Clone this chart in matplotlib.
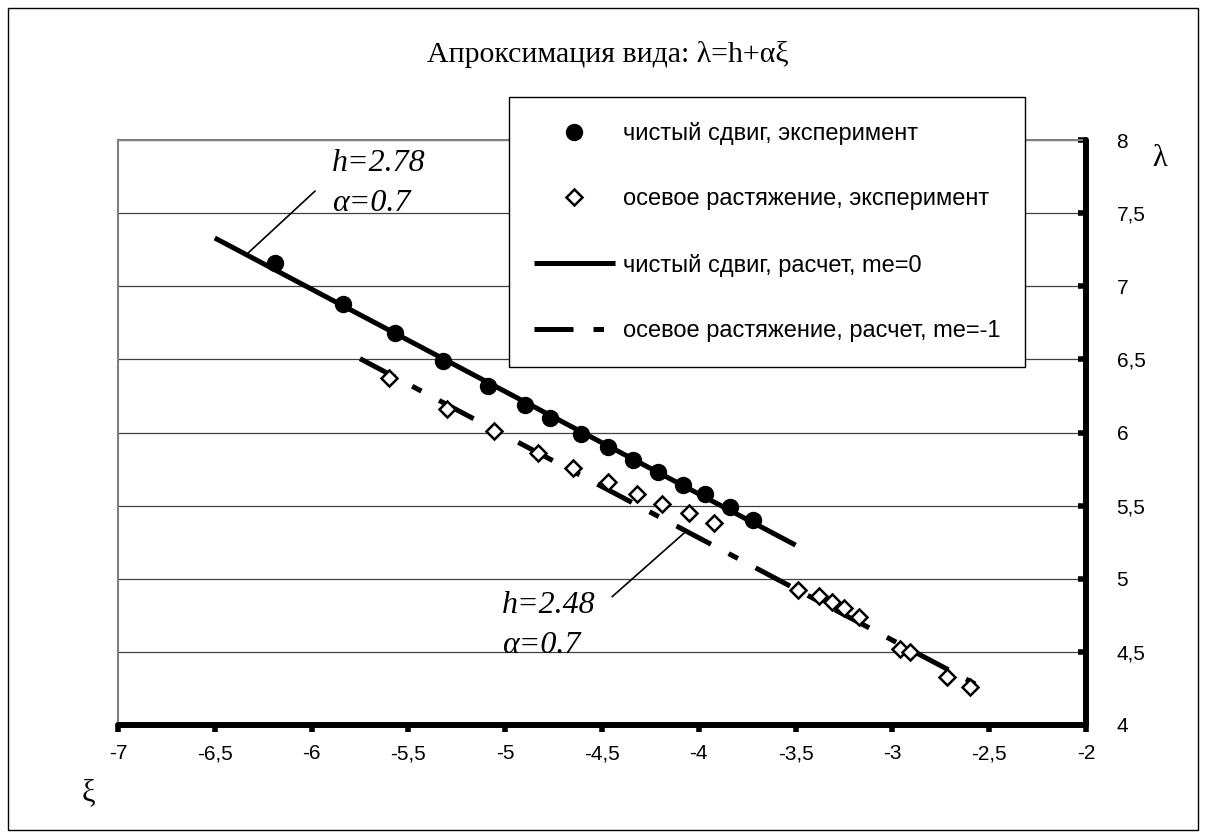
import matplotlib
matplotlib.use('Agg')
import matplotlib.pyplot as plt
from matplotlib.lines import Line2D
from matplotlib.patches import Rectangle

# ---- data ----
shear_xi = [-6.19, -5.84, -5.57, -5.32, -5.09, -4.90, -4.77, -4.61, -4.47, -4.34,
            -4.21, -4.08, -3.97, -3.84, -3.72]
shear_lam = [7.16, 6.88, 6.68, 6.49, 6.32, 6.19, 6.10, 5.99, 5.90, 5.81,
             5.73, 5.64, 5.58, 5.49, 5.40]
tension_xi = [-5.60, -5.30, -5.06, -4.83, -4.65, -4.47, -4.32, -4.19, -4.05, -3.92,
              -3.49, -3.38, -3.31, -3.25, -3.17, -2.96, -2.91, -2.72, -2.60]
tension_lam = [6.37, 6.16, 6.01, 5.86, 5.76, 5.66, 5.58, 5.51, 5.45, 5.38,
               4.92, 4.88, 4.84, 4.80, 4.74, 4.52, 4.50, 4.33, 4.26]
shear_fit_xi = [-6.5, -3.5]
shear_fit_lam = [7.33, 5.23]
tension_fit_xi = [-5.75, -2.5]
tension_fit_lam = [6.505, 4.23]

xticks = [-7, -6.5, -6, -5.5, -5, -4.5, -4, -3.5, -3, -2.5, -2]
xtick_labels = ['-7', '-6,5', '-6', '-5,5', '-5', '-4,5', '-4', '-3,5', '-3', '-2,5', '-2']
yticks = [4, 4.5, 5, 5.5, 6, 6.5, 7, 7.5, 8]
ytick_labels = ['4', '4,5', '5', '5,5', '6', '6,5', '7', '7,5', '8']

legend_labels = ['чистый сдвиг, эксперимент',
                 'осевое растяжение, эксперимент',
                 'чистый сдвиг, расчет, me=0',
                 'осевое растяжение, расчет, me=-1']

SANS = 'Liberation Sans'
SERIF = 'Liberation Serif'

W, H = 1206, 835
fig = plt.figure(figsize=(W / 100, H / 100), dpi=100)
fig.patch.set_facecolor('white')

# outer border
fig.patches.append(Rectangle((8 / W, 1 - 830 / H), (1198 - 8) / W, (830 - 8) / H,
                             transform=fig.transFigure, fill=False,
                             edgecolor='black', lw=1.0))

L, R, T, B = 118, 1086, 140, 725
ax = fig.add_axes([L / W, 1 - B / H, (R - L) / W, (B - T) / H])
ax.set_xlim(-7, -2)
ax.set_ylim(4, 8)

# grid
ax.set_yticks(yticks)
ax.set_yticklabels(ytick_labels)
ax.set_xticks(xticks)
ax.set_xticklabels(xtick_labels)
ax.yaxis.grid(True, color='#404040', lw=0.9)
ax.set_axisbelow(True)

for s in ['left', 'top']:
    ax.spines[s].set_color('#808080')
    ax.spines[s].set_linewidth(1.5)
for s in ['bottom', 'right']:
    ax.spines[s].set_color('black')
    ax.spines[s].set_linewidth(4.3)
    ax.spines[s].set_capstyle('round')
    ax.spines[s].set_zorder(5)

ax.yaxis.tick_right()
ax.tick_params(axis='x', direction='out', length=5, width=4, pad=9,
               labelsize=15, colors='black')
ax.tick_params(axis='y', direction='in', length=6, width=4, pad=22,
               labelsize=15, colors='black', left=False, right=True,
               labelleft=False, labelright=True)
for lab in ax.get_xticklabels() + ax.get_yticklabels():
    lab.set_family(SANS)
for lab in ax.get_yticklabels():
    lab.set_horizontalalignment('left')

# fitted lines
dash = (0, (7.8, 4.0, 2.1, 4.0))
ax.plot(shear_fit_xi, shear_fit_lam, color='black', lw=3.6,
        solid_capstyle='butt', zorder=3)
ax.plot(tension_fit_xi, tension_fit_lam, color='black', lw=3.6,
        linestyle=dash, dash_capstyle='butt', zorder=3)

# experiment points
ax.plot(shear_xi, shear_lam, ls='none', marker='o', ms=11.5,
        color='black', zorder=4)
ax.plot(tension_xi, tension_lam, ls='none', marker='D', ms=8.3,
        mfc='white', mec='black', mew=1.8, zorder=4)

# annotations
ax.annotate('', xy=(-6.334, 7.22), xytext=(-5.982, 7.651),
            arrowprops=dict(arrowstyle='-', lw=1.2, color='black',
                            shrinkA=0, shrinkB=0))
ax.annotate('', xy=(-4.061, 5.33), xytext=(-4.448, 4.877),
            arrowprops=dict(arrowstyle='-', lw=1.2, color='black',
                            shrinkA=0, shrinkB=0))
ann = dict(family=SERIF, style='italic', fontsize=23, va='center', ha='left')
ax.text(-5.895, 7.836, 'h=2.78', **ann)
ax.text(-5.895, 7.568, 'α=0.7', **ann)
ax.text(-5.017, 4.815, 'h=2.48', **ann)
ax.text(-5.017, 4.541, 'α=0.7', **ann)

# title and axis names
fig.text(608 / W, 1 - 55 / H, 'Апроксимация вида: λ=h+αξ', family=SERIF,
         fontsize=21.5, ha='center', va='center')
fig.text(1160 / W, 1 - 158 / H, 'λ', family=SERIF, fontsize=22,
         ha='center', va='center')
fig.text(88 / W, 1 - 793 / H, 'ξ', family=SERIF, fontsize=22,
         ha='center', va='center')

# legend
handles = [
    Line2D([], [], ls='none', marker='o', ms=11.5, color='black'),
    Line2D([], [], ls='none', marker='D', ms=8.3, mfc='white', mec='black', mew=1.8),
    Line2D([], [], color='black', lw=3.6, solid_capstyle='butt'),
    Line2D([], [], color='black', lw=3.6, linestyle=dash, dash_capstyle='butt'),
]
leg = fig.legend(handles, legend_labels, loc='upper left',
                 bbox_to_anchor=(509 / W, 1 - 97 / H), bbox_transform=fig.transFigure,
                 frameon=True, fancybox=False, edgecolor='black', framealpha=1,
                 prop={'family': SANS, 'size': 17}, handlelength=3.4,
                 handletextpad=0.34, labelspacing=1.83, borderpad=1.07,
                 borderaxespad=0)
leg.get_frame().set_linewidth(1.0)

fig.savefig('out.png', dpi=100)
